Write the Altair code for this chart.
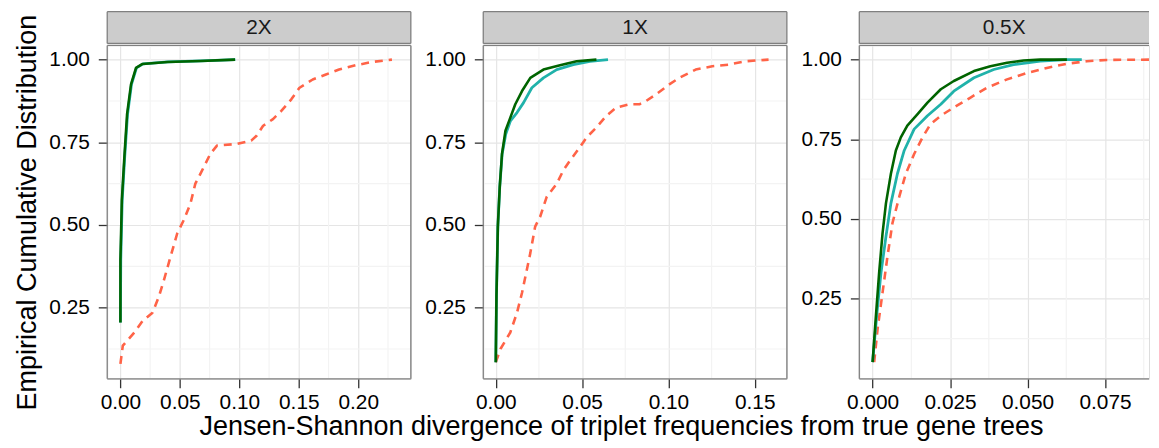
import altair as alt
import pandas as pd

# ---------------- data ----------------
panels = ["2X", "1X", "0.5X"]
series = ["red", "teal", "green"]

# 2X
p2x_red_x = [0, 0.002, 0.0117, 0.0187, 0.027, 0.0325, 0.0367, 0.0422, 0.0478, 0.0533, 0.0589, 0.063,
             0.0687, 0.0756, 0.0812, 0.0978, 0.110, 0.1145, 0.12, 0.1283, 0.1353, 0.1437, 0.1506,
             0.1617, 0.1728, 0.1839, 0.1978, 0.2117, 0.2283]
p2x_red_y = [0.08, 0.135, 0.175, 0.21, 0.235, 0.285, 0.335, 0.405, 0.475, 0.515, 0.565, 0.625,
             0.665, 0.715, 0.74, 0.745, 0.755, 0.77, 0.80, 0.82, 0.845, 0.88, 0.915,
             0.94, 0.955, 0.97, 0.983, 0.993, 1.0]
p2x_teal_x = [0, 0.0003, 0.0015, 0.0036, 0.006, 0.0093, 0.0135, 0.019, 0.04, 0.068, 0.0966]
p2x_teal_y = [0.205, 0.395, 0.575, 0.705, 0.835, 0.925, 0.975, 0.987, 0.993, 0.996, 1.0]
p2x_green_x = [0, 0.0, 0.0012, 0.0033, 0.0056, 0.0089, 0.0131, 0.0186, 0.0395, 0.0672, 0.0964]
p2x_green_y = [0.205, 0.395, 0.575, 0.705, 0.835, 0.925, 0.975, 0.987, 0.993, 0.996, 1.0]

# 1X
p1x_red_x = [0, 0.0027, 0.0084, 0.0123, 0.0152, 0.018, 0.020, 0.0228, 0.0257, 0.0295, 0.0353, 0.0391,
             0.043, 0.0487, 0.0526, 0.0583, 0.064, 0.0698, 0.0775, 0.0832, 0.0871, 0.0928, 0.1005,
             0.1063, 0.1158, 0.1254, 0.135, 0.1446, 0.158]
p1x_red_y = [0.085, 0.125, 0.175, 0.235, 0.295, 0.365, 0.415, 0.495, 0.525, 0.585, 0.625, 0.665,
             0.695, 0.735, 0.765, 0.795, 0.83, 0.855, 0.865, 0.865, 0.875, 0.895, 0.925,
             0.945, 0.97, 0.98, 0.985, 0.995, 1.0]
p1x_teal_x = [0, 0.0004, 0.0012, 0.0023, 0.0037, 0.0058, 0.0085, 0.0123, 0.0161, 0.0209, 0.0276,
              0.0353, 0.0449, 0.0545, 0.065]
p1x_teal_y = [0.085, 0.285, 0.495, 0.615, 0.715, 0.775, 0.815, 0.84, 0.87, 0.915, 0.945,
              0.97, 0.985, 0.995, 1.0]
p1x_green_x = [0, 0.0004, 0.0012, 0.0023, 0.0036, 0.0056, 0.0081, 0.0113, 0.0152, 0.020, 0.0276,
               0.0372, 0.0468, 0.0583]
p1x_green_y = [0.085, 0.285, 0.495, 0.615, 0.715, 0.785, 0.82, 0.865, 0.905, 0.945, 0.97,
               0.983, 0.995, 1.0]

# 0.5X
p05x_red_x = [0.0005, 0.0016, 0.0032, 0.0048, 0.0064, 0.0086, 0.0107, 0.0134, 0.0161, 0.0187, 0.022,
              0.0262, 0.0316, 0.0369, 0.0434, 0.0498, 0.0562, 0.0627, 0.0691, 0.0755, 0.0916]
p05x_red_y = [0.051, 0.155, 0.269, 0.383, 0.487, 0.57, 0.642, 0.704, 0.756, 0.798, 0.824,
              0.85, 0.881, 0.912, 0.938, 0.958, 0.974, 0.987, 0.995, 0.999, 1.0]
p05x_teal_x = [0, 0.0014, 0.0027, 0.0043, 0.0059, 0.008, 0.0102, 0.0134, 0.0177, 0.022, 0.0262,
               0.0327, 0.0391, 0.0455, 0.0541, 0.0627, 0.0675]
p05x_teal_y = [0.051, 0.206, 0.331, 0.445, 0.549, 0.642, 0.715, 0.782, 0.824, 0.86, 0.901,
               0.943, 0.969, 0.984, 0.995, 1.0, 1.0]
p05x_green_x = [0, 0.0009, 0.0021, 0.0032, 0.0043, 0.0059, 0.0075, 0.0091, 0.0112, 0.0145, 0.0177,
                0.022, 0.0262, 0.0327, 0.038, 0.0434, 0.0487, 0.0541, 0.0627]
p05x_green_y = [0.051, 0.175, 0.331, 0.455, 0.549, 0.642, 0.715, 0.756, 0.793, 0.829, 0.865,
                0.907, 0.933, 0.964, 0.979, 0.990, 0.997, 1.0, 1.0]

# ticks
x_ticks = [[0, 0.05, 0.10, 0.15, 0.20], [0, 0.05, 0.10, 0.15], [0, 0.025, 0.05, 0.075]]
x_minor = [[0.025, 0.075, 0.125, 0.175, 0.225], [0.025, 0.075, 0.125], [0.0125, 0.0375, 0.0625, 0.0875]]
x_fmt = [".2f", ".2f", ".3f"]
y_ticks = [0.25, 0.50, 0.75, 1.00]
y_minor = [0.125, 0.375, 0.625, 0.875]

x_domains = [[-0.0111, 0.2442], [-0.00725, 0.1686], [-0.0043, 0.0892]]
y_domains = [[0.035, 1.043], [0.035, 1.043], [-0.001, 1.0445]]
widths = [306, 306, 292]
H = 336

raw = {
    "2X": {"red": (p2x_red_x, p2x_red_y), "teal": (p2x_teal_x, p2x_teal_y), "green": (p2x_green_x, p2x_green_y)},
    "1X": {"red": (p1x_red_x, p1x_red_y), "teal": (p1x_teal_x, p1x_teal_y), "green": (p1x_green_x, p1x_green_y)},
    "0.5X": {"red": (p05x_red_x, p05x_red_y), "teal": (p05x_teal_x, p05x_teal_y), "green": (p05x_green_x, p05x_green_y)},
}

styles = {
    "red": dict(color="#FF6347", strokeWidth=2.6, strokeDash=[8, 6]),
    "teal": dict(color="#20B2AA", strokeWidth=2.8),
    "green": dict(color="#006400", strokeWidth=2.6),
}

FONT = "Liberation Sans"
BORDER = "#7F7F7F"


def make_panel(i):
    name = panels[i]
    W = widths[i]
    last = i == len(panels) - 1
    xs = alt.Scale(domain=x_domains[i], nice=False, zero=False)
    ys = alt.Scale(domain=y_domains[i], nice=False, zero=False)
    xa = alt.Axis(values=x_ticks[i], format=x_fmt[i], grid=True, gridColor="#E5E5E5", gridWidth=1.2,
                  domain=False, tickColor="#333333", tickSize=9, tickWidth=1.3, labelFontSize=21,
                  labelFont=FONT, labelColor="black", labelPadding=4, labelFlush=False,
                  labelOverlap=False, title=None)
    ya_kwargs = dict(values=y_ticks, format=".2f", grid=True, gridColor="#E5E5E5", gridWidth=1.2,
                     domain=False, tickColor="#333333", tickSize=9, tickWidth=1.3, labelFontSize=21,
                     labelFont=FONT, labelColor="black", labelPadding=9, labelFlush=False,
                     labelOverlap=False)
    if i == 0:
        ya = alt.Axis(title="Empirical Cumulative Distribution", titleFontSize=27.2, titleFont=FONT,
                      titleFontWeight="normal", titleColor="black", titlePadding=7, **ya_kwargs)
    else:
        ya = alt.Axis(title=None, **ya_kwargs)

    layers = []
    # minor grid
    layers.append(
        alt.Chart(pd.DataFrame({"v": x_minor[i]})).mark_rule(color="#F3F3F3", strokeWidth=1.2, clip=True)
        .encode(x=alt.X("v:Q", scale=xs, axis=xa))
    )
    layers.append(
        alt.Chart(pd.DataFrame({"v": y_minor})).mark_rule(color="#F3F3F3", strokeWidth=1.2, clip=True)
        .encode(y=alt.Y("v:Q", scale=ys, axis=ya))
    )
    for s in series:
        xv, yv = raw[name][s]
        d = pd.DataFrame({"x": xv, "y": yv, "o": list(range(len(xv)))})
        layers.append(
            alt.Chart(d).mark_line(clip=True, strokeCap="butt", strokeJoin="round", **styles[s])
            .encode(x=alt.X("x:Q", scale=xs, axis=xa), y=alt.Y("y:Q", scale=ys, axis=ya), order="o:Q")
        )
    lab = pd.DataFrame({"label": [name]})
    # panel border (no right edge on the last, cut-off panel)
    edges = [
        dict(x=alt.value(0), x2=alt.value(W), y=alt.value(0)),
        dict(x=alt.value(0), x2=alt.value(W), y=alt.value(H)),
        dict(x=alt.value(0), y=alt.value(0), y2=alt.value(H)),
    ]
    if not last:
        edges.append(dict(x=alt.value(W), y=alt.value(0), y2=alt.value(H)))
    # strip
    layers.append(
        alt.Chart(lab).mark_rect(fill="#CCCCCC")
        .encode(x=alt.value(0), x2=alt.value(W), y=alt.value(-34), y2=alt.value(-2))
    )
    edges += [
        dict(x=alt.value(0), x2=alt.value(W), y=alt.value(-34)),
        dict(x=alt.value(0), x2=alt.value(W), y=alt.value(-2)),
        dict(x=alt.value(0), y=alt.value(-34), y2=alt.value(-2)),
    ]
    if not last:
        edges.append(dict(x=alt.value(W), y=alt.value(-34), y2=alt.value(-2)))
    for e in edges:
        layers.append(alt.Chart(lab).mark_rule(color=BORDER, strokeWidth=1.3).encode(**e))
    layers.append(
        alt.Chart(lab).mark_text(fontSize=21, font=FONT, color="#1A1A1A", baseline="middle", align="center")
        .encode(x=alt.value(W / 2), y=alt.value(-18), text="label:N")
    )
    return alt.layer(*layers).properties(width=W, height=H)


chart = (
    alt.hconcat(*[make_panel(i) for i in range(3)], spacing=11)
    .properties(
        padding={"left": 5, "top": 0, "right": 0, "bottom": 0},
        title=alt.TitleParams(
            "Jensen-Shannon divergence of triplet frequencies from true gene trees",
            orient="bottom", anchor="middle", fontSize=27.2, font=FONT, fontWeight="normal",
            color="black", offset=1, dx=40,
        ),
    )
    .configure_view(stroke=None)
    .configure(background="white")
)

chart.save("out.html", embed_options={"renderer": "svg", "actions": False})
